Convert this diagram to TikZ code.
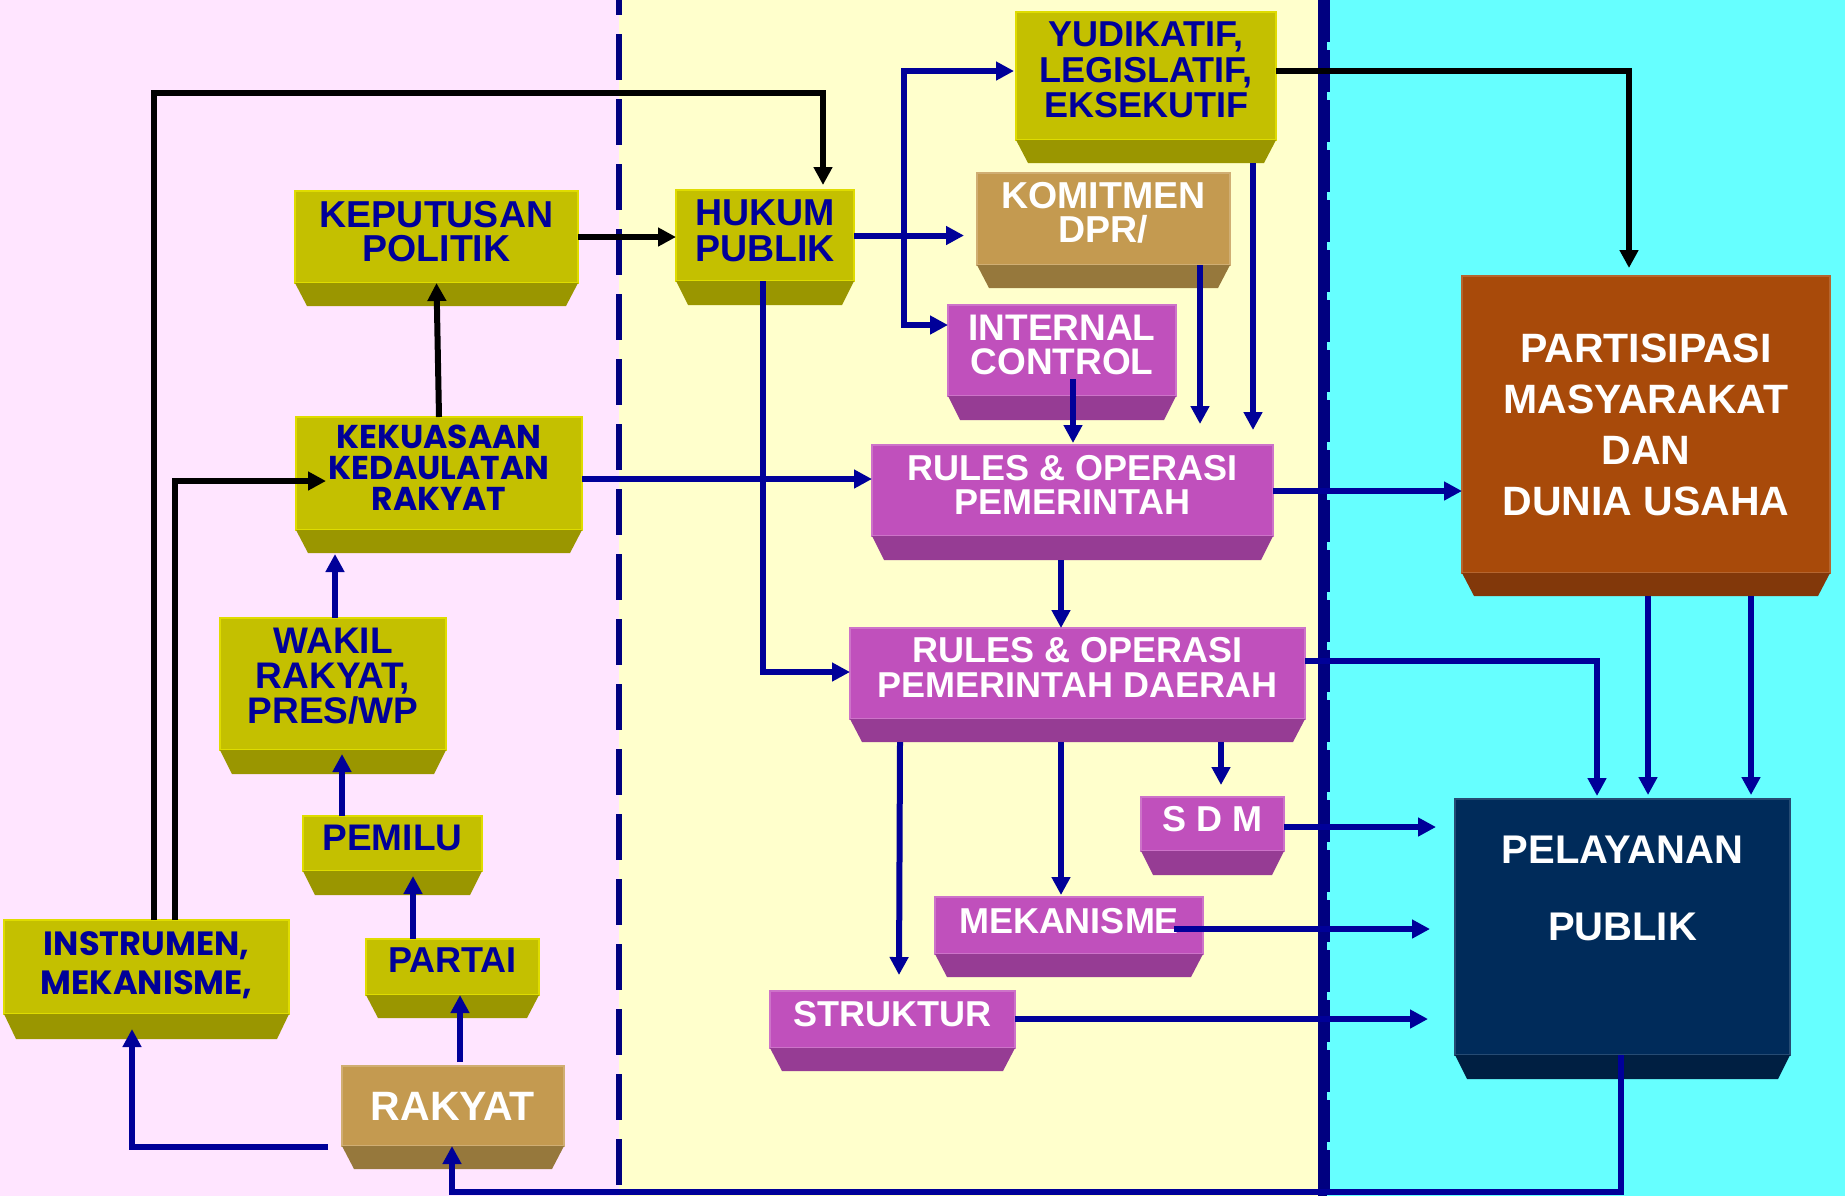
\documentclass[tikz,border=0pt]{standalone}
\usepackage{fontspec}
\setmainfont{Liberation Sans}
\newfontfamily\comicf{Poppins}
\usetikzlibrary{arrows.meta}
\definecolor{bgpink}{HTML}{FFE5FF}
\definecolor{bgyel}{HTML}{FFFFCC}
\definecolor{bgcyan}{HTML}{66FFFF}
\definecolor{linenavy}{HTML}{000099}
\definecolor{divnavy}{HTML}{000080}
\definecolor{txtnavy}{HTML}{000099}
\definecolor{olivef}{HTML}{C4C000}
\definecolor{oliveb}{HTML}{9A9600}
\definecolor{tanf}{HTML}{C49A50}
\definecolor{tanb}{HTML}{96783C}
\definecolor{magf}{HTML}{C050BC}
\definecolor{magb}{HTML}{963C94}
\definecolor{brownf}{HTML}{A84A0A}
\definecolor{brownb}{HTML}{82380A}
\definecolor{navyf}{HTML}{002B5A}
\definecolor{navyb}{HTML}{001F42}
\newcommand\bx[2]{\bfseries\fontsize{#1}{#2}\selectfont}
\newcommand\cx[2]{\comicf\bfseries\fontsize{#1}{#2}\selectfont}
% #1 name, #2 x1, #3 y1, #4 x2, #5 y face end, #6 y bevel end, #7 colour base, #8 options, #9 text
\newcommand\bevbox[9]{%
  \node[boxbase, #7 face, #8, minimum width={(#4-#2)*0.5pt}, minimum height={(#5-#3)*0.5pt}]
    (#1) at ({(#2+#4)/2},{(#3+#5)/2}) {#9};
  \fill[#7 bev] (#2,#5) -- (#4,#5) -- ({#4-12},#6) -- ({#2+12},#6) -- cycle;
}
\begin{document}
\begin{tikzpicture}[x=0.5pt,y=-0.5pt,
  boxbase/.style={inner sep=0pt, outer sep=0pt, align=center, line width=0.6pt},
  olive face/.style={fill=olivef, draw=olivef!55!yellow, text=txtnavy},
  olive bev/.style={fill=oliveb},
  tan face/.style={fill=tanf, draw=tanf!80!white, text=white},
  tan bev/.style={fill=tanb},
  mag face/.style={fill=magf, draw=magf!80!white, text=white},
  mag bev/.style={fill=magb},
  brown face/.style={fill=brownf, draw=brownf!85!white, text=white},
  brown bev/.style={fill=brownb},
  navy face/.style={fill=navyf, draw=navyf!85!white, text=white},
  navy bev/.style={fill=navyb},
  barrow/.style={draw=linenavy, line width=3pt, -{Triangle[length=9pt,width=9pt]}},
  karrow/.style={draw=black, line width=3pt, -{Triangle[length=9pt,width=9pt]}},
]
\useasboundingbox (0,0) rectangle (1845,1196);
% backgrounds
\fill[bgpink] (0,0) rectangle (619,1196);
\fill[bgyel] (619,0) rectangle (1323,1196);
\fill[bgcyan] (1323,0) rectangle (1845,1196);
\draw[divnavy, line width=3pt, dash pattern=on 23pt off 9.5pt, dash phase=15.5pt] (619,0) -- (619,1196);
\draw[divnavy, line width=4.5pt] (1322.5,0) -- (1322.5,1196);
\draw[divnavy, line width=1.5pt, dash pattern=on 21pt off 4pt] (1328.5,0) -- (1328.5,1196);

% boxes
\bevbox{yud}{1016}{12}{1276}{140}{163}{olive}{text depth=6pt, font=\bx{18}{17.7}}{YUDIKATIF,\\LEGISLATIF,\\EKSEKUTIF}
\bevbox{komitmen}{977}{173}{1230}{265}{288}{tan}{text depth=6.5pt, font=\bx{18.75}{17.2}}{KOMITMEN\\DPR/}
\bevbox{internal}{948}{305}{1176}{396}{420}{mag}{text depth=6pt, font=\bx{18.5}{17.2}}{INTERNAL\\CONTROL}
\bevbox{rules}{872}{445}{1273}{536}{560}{mag}{text depth=5.5pt, font=\bx{18}{17.2}}{RULES \& OPERASI\\PEMERINTAH}
\bevbox{daerah}{850}{628}{1305}{719}{742}{mag}{text depth=6pt, font=\bx{18}{17.7}}{RULES \& OPERASI\\PEMERINTAH DAERAH}
\bevbox{sdm}{1141}{797}{1284}{851}{875}{mag}{text depth=5.5pt, font=\bx{18}{18}}{S D M}
\bevbox{mekanisme}{935}{897}{1203}{954}{977}{mag}{text depth=4.5pt, font=\bx{18}{18}}{MEKANISME}
\bevbox{struktur}{770}{991}{1015}{1048}{1071}{mag}{text depth=6pt, font=\bx{18}{18}}{STRUKTUR}
\bevbox{hukum}{676}{190}{854}{281}{305}{olive}{text depth=5pt, font=\bx{18.75}{18}}{HUKUM\\PUBLIK}
\bevbox{keputusan}{295}{191}{578}{283}{306}{olive}{text depth=5.5pt, font=\bx{18.75}{17}}{KEPUTUSAN\\POLITIK}
\bevbox{kekuasaan}{296}{417}{582}{530}{553}{olive}{text depth=6pt, font=\cx{16.5}{15.5}}{KEKUASAAN\\KEDAULATAN\\RAKYAT}
\bevbox{wakil}{220}{618}{446}{750}{774}{olive}{text depth=8pt, font=\bx{18.5}{17.5}}{WAKIL\\RAKYAT,\\PRES/WP}
\bevbox{pemilu}{303}{816}{482}{871}{895}{olive}{text depth=6pt, font=\bx{18.5}{18}}{PEMILU}
\bevbox{partai}{366}{939}{539}{995}{1018}{olive}{text depth=6.5pt, font=\bx{18}{18}}{PARTAI}
\bevbox{instrumen}{4}{920}{289}{1014}{1039}{olive}{text depth=4pt, font=\cx{16.8}{19.5}}{INSTRUMEN,\\MEKANISME,}
\bevbox{rakyat}{342}{1066}{564}{1146}{1169}{tan}{text depth=0pt, font=\bx{20.5}{20}}{RAKYAT}
\bevbox{partisipasi}{1462}{276}{1830}{573}{596}{brown}{text depth=0pt, font=\bx{20.5}{25.5}}{PARTISIPASI\\MASYARAKAT\\DAN\\DUNIA USAHA}
\bevbox{pelayanan}{1455}{799}{1790}{1055}{1079}{navy}{text depth=39pt, font=\bx{20}{38.5}}{PELAYANAN\\PUBLIK}

% black connectors
\draw[karrow] (instrumen.north -| 154,0) -- (154,93) -- (823,93) -- (823,185);
\draw[karrow] (instrumen.north -| 175,0) -- (175,481) -- (326,481);
\draw[karrow] (kekuasaan.north) -- (keputusan.south);
\draw[karrow] (keputusan.east) -- (keputusan.east -| hukum.west);
\draw[karrow] (yud.east |- 0,71) -- (1629,71) -- (1629,268);

% blue connectors
\draw[barrow] (hukum.east) -- (964,235.5);
\draw[barrow] (904,235.5) -- (904,71) -- (1014,71);
\draw[barrow] (904,235.5) -- (904,325) -- (internal.west |- 0,325);
\draw[barrow] (1073,379) -- (1073,443);
\draw[barrow] (komitmen.south -| 1200,0) -- (1200,424);
\draw[barrow] (1253,163) -- (1253,430);
\draw[barrow] (kekuasaan.east |- 0,479) -- (rules.west |- 0,479);
\draw[barrow] (hukum.south -| 763,0) -- (763,672) -- (daerah.west |- 0,672);
\draw[barrow] (1061,560) -- (daerah.north -| 1061,0);
\draw[barrow] (rules.east |- 0,491) -- (partisipasi.west |- 0,491);
\draw[barrow] (daerah.east |- 0,661) -- (1597,661) -- (1597,796);
\draw[barrow] (1648,596) -- (1648,795);
\draw[barrow] (1751,596) -- (1751,795);
\draw[barrow] (900,742) -- (899,975);
\draw[barrow] (1061,742) -- (1061,895);
\draw[barrow] (1221,742) -- (1221,785);
\draw[barrow] (sdm.east |- 0,827) -- (1436,827);
\draw[barrow] (1174,929) -- (1430,929);
\draw[barrow] (struktur.east |- 0,1019) -- (1428,1019);
\draw[barrow] (pelayanan.south -| 1621,0) -- (1621,1192) -- (452,1192) -- (rakyat.south -| 452,0);
\draw[barrow] (328,1147) -- (132,1147) -- (132,1029);
\draw[barrow] (460,1062) -- (partai.south -| 460,0);
\draw[barrow] (partai.north -| 413,0) -- (413,876);
\draw[barrow] (pemilu.north -| 342,0) -- (342,754);
\draw[barrow] (wakil.north -| 335,0) -- (335,554);
\end{tikzpicture}
\end{document}
